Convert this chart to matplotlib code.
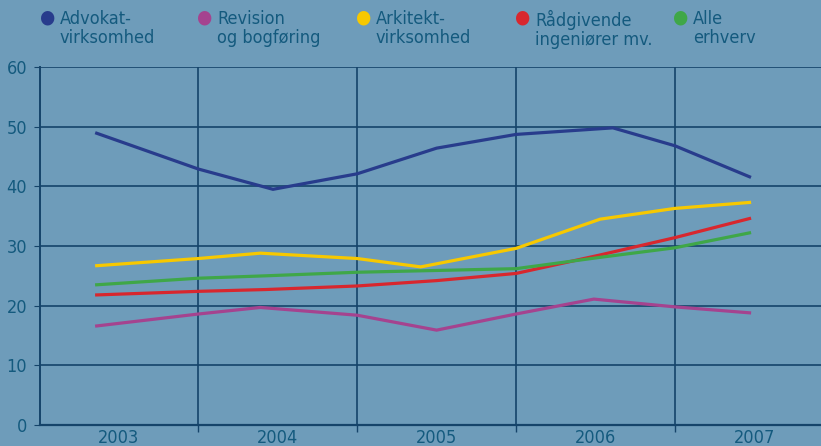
import matplotlib.pyplot as plt
from matplotlib.ticker import FixedLocator

# Series (x in years, y in per cent)
names = ["Advokat-\nvirksomhed", "Revision\nog bogføring", "Arkitekt-\nvirksomhed",
         "Rådgivende\ningeniører mv.", "Alle\nerhverv"]
colors = ["#283c8c", "#a5438f", "#f7c800", "#d8272e", "#3fa748"]

x_advokat = [2002.86, 2003.50, 2003.97, 2004.50, 2005.00, 2005.50, 2006.11, 2006.50, 2006.97]
y_advokat = [48.9, 42.9, 39.5, 42.1, 46.4, 48.7, 49.8, 46.8, 41.6]

x_revision = [2002.86, 2003.50, 2003.89, 2004.50, 2005.00, 2005.50, 2005.99, 2006.50, 2006.97]
y_revision = [16.6, 18.6, 19.7, 18.4, 15.9, 18.6, 21.1, 19.8, 18.8]

x_arkitekt = [2002.86, 2003.50, 2003.89, 2004.50, 2004.90, 2005.50, 2006.03, 2006.50, 2006.97]
y_arkitekt = [26.7, 27.9, 28.8, 27.9, 26.5, 29.6, 34.5, 36.3, 37.3]

x_raadgiv = [2002.86, 2003.50, 2003.92, 2004.50, 2005.00, 2005.50, 2006.03, 2006.50, 2006.97]
y_raadgiv = [21.8, 22.4, 22.7, 23.3, 24.2, 25.4, 28.5, 31.4, 34.6]

x_alle = [2002.86, 2003.50, 2003.92, 2004.50, 2005.00, 2005.50, 2006.03, 2006.50, 2006.97]
y_alle = [23.5, 24.6, 25.0, 25.6, 25.9, 26.2, 28.1, 29.7, 32.2]

years = [2003, 2004, 2005, 2006, 2007]

bg = "#6e9cba"
grid_c = "#15446a"
txt_c = "#145a7e"
plt.rcParams['font.family'] = ['DejaVu Sans']
plt.rcParams['font.stretch'] = 'condensed'

fig = plt.figure(figsize=(8.21, 4.46), dpi=100, facecolor=bg)
ax = fig.add_axes([39.5 / 821, 21 / 446, 1 - 39.5 / 821, 358 / 446], facecolor=bg)

series = [(x_advokat, y_advokat), (x_revision, y_revision), (x_arkitekt, y_arkitekt),
          (x_raadgiv, y_raadgiv), (x_alle, y_alle)]
for (xs, ys), c in zip(series, colors):
    ax.plot(xs, ys, color=c, lw=2.3, solid_joinstyle='miter', zorder=3)

ax.set_xlim(2002.5, 2007.42)
ax.set_ylim(0, 60)
ax.set_yticks(range(0, 61, 10))
ax.set_xticks(years)
ax.xaxis.set_minor_locator(FixedLocator([2003.5, 2004.5, 2005.5, 2006.5]))
ax.grid(True, axis='y', color=grid_c, lw=1.2)
ax.grid(True, axis='x', which='minor', color=grid_c, lw=1.2)
ax.grid(False, axis='x', which='major')
for s in ['top', 'right']:
    ax.spines[s].set_visible(False)
ax.spines['left'].set_color(grid_c)
ax.spines['bottom'].set_color(grid_c)
ax.spines['left'].set_linewidth(1.4)
ax.spines['bottom'].set_linewidth(1.6)
ax.tick_params(axis='y', colors=txt_c, labelsize=13, length=4, color=grid_c, pad=5)
ax.tick_params(axis='x', which='major', colors=txt_c, labelsize=13, length=0, pad=3)
ax.tick_params(axis='x', which='minor', length=5, color=grid_c, width=1)
for lab in ax.get_xticklabels() + ax.get_yticklabels():
    lab.set_color(txt_c)

# Legend across the top
leg_x = [47, 204, 363, 522, 680]
for px, name, c in zip(leg_x, names, colors):
    fig.text(px / 821, 1 - 17 / 446, "\u25cf", color=c, fontsize=14,
             ha='center', va='center', family='DejaVu Sans')
    fig.text((px + 13) / 821, 1 - 10 / 446, name, color=txt_c, fontsize=13,
             ha='left', va='top', linespacing=1.08)

fig.savefig('out.png', dpi=100, facecolor=bg)
